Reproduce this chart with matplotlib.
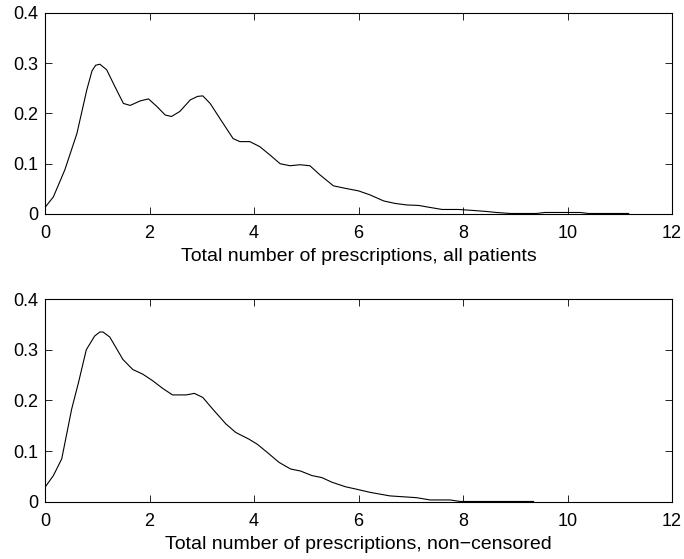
import matplotlib
matplotlib.use('Agg')
import matplotlib.pyplot as plt

plt.rcParams['font.family'] = ['Liberation Sans', 'DejaVu Sans']

# Kernel density estimates of prescription counts
x_all = [0, 0.16, 0.38, 0.61, 0.80, 0.90, 0.97, 1.05, 1.18, 1.34, 1.50, 1.63, 1.82, 1.98,
         2.14, 2.30, 2.42, 2.58, 2.78, 2.92, 3.02, 3.16, 3.41, 3.6, 3.73, 3.92, 4.11, 4.31,
         4.5, 4.69, 4.88, 5.07, 5.26, 5.52, 5.75, 6.0, 6.22, 6.48, 6.7, 6.92, 7.15,
         7.37, 7.6, 7.91, 8.2, 8.45, 8.64, 8.9, 9.4, 9.57, 9.92, 10.24, 10.4, 11.17]
y_all = [0.013, 0.034, 0.088, 0.16, 0.247, 0.285, 0.296, 0.298, 0.287, 0.253, 0.22, 0.216,
         0.225, 0.229, 0.214, 0.197, 0.194, 0.204, 0.227, 0.234, 0.235, 0.22, 0.18, 0.15,
         0.144, 0.144, 0.134, 0.117, 0.10, 0.096, 0.098, 0.096, 0.078, 0.056, 0.051,
         0.046, 0.038, 0.026, 0.021, 0.018, 0.017, 0.013, 0.009, 0.009, 0.007, 0.005,
         0.003, 0.001, 0.001, 0.003, 0.003, 0.003, 0.001, 0.001]

x_nc = [0, 0.16, 0.32, 0.51, 0.64, 0.79, 0.95, 1.05, 1.11, 1.24, 1.49, 1.68, 1.87,
        2.06, 2.25, 2.44, 2.70, 2.86, 3.02, 3.21, 3.46, 3.65, 3.9, 4.06, 4.25, 4.48,
        4.70, 4.89, 5.11, 5.30, 5.49, 5.75, 5.97, 6.22, 6.6, 7.11, 7.37, 7.75, 7.95, 9.35]
y_nc = [0.029, 0.052, 0.085, 0.183, 0.235, 0.30, 0.327, 0.335, 0.335, 0.325, 0.281,
        0.261, 0.252, 0.239, 0.224, 0.211, 0.211, 0.214, 0.206, 0.183, 0.154, 0.137,
        0.124, 0.114, 0.098, 0.078, 0.065, 0.061, 0.052, 0.048, 0.039, 0.03, 0.025,
        0.019, 0.012, 0.0085, 0.004, 0.004, 0.001, 0.001]

xticks = [0, 2, 4, 6, 8, 10, 12]
yticks = [0, 0.1, 0.2, 0.3, 0.4]
yticklabels = ['0', '0.1', '0.2', '0.3', '0.4']

fig = plt.figure(figsize=(6.84, 5.59), dpi=100)
ax1 = fig.add_axes([0.0658, 0.6172, 0.9167, 0.3596])
ax2 = fig.add_axes([0.0658, 0.1020, 0.9167, 0.3631])

panels = [(ax1, x_all, y_all, 'Total number of prescriptions, all patients'),
          (ax2, x_nc, y_nc, 'Total number of prescriptions, non\u2212censored')]

for ax, x, y, label in panels:
    ax.plot(x, y, color='black', linewidth=0.8)
    ax.set_xlim(0, 12)
    ax.set_ylim(0, 0.4)
    ax.set_xticks(xticks)
    ax.set_yticks(yticks)
    ax.set_yticklabels(yticklabels)
    ax.tick_params(direction='in', length=5, width=0.6, top=True, right=True,
                   labelsize=13, pad=5)
    ax.tick_params(axis='x', pad=8)
    for sp in ax.spines.values():
        sp.set_linewidth(0.8)
    ax.set_xlabel(label, fontsize=14, labelpad=4)

fig.savefig('out.png', dpi=100)
